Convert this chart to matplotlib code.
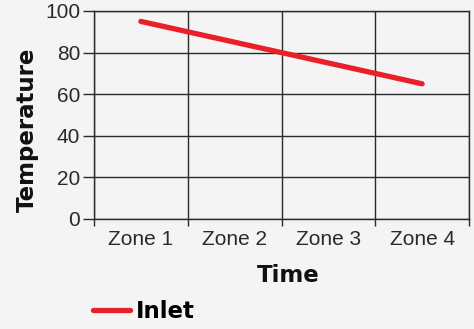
import matplotlib
matplotlib.use("Agg")
import matplotlib.pyplot as plt
import numpy as np

# Data
zones = ["Zone 1", "Zone 2", "Zone 3", "Zone 4"]
inlet = [95, 85, 75, 65]
y_ticks = [0, 20, 40, 60, 80, 100]

BG = "#f4f4f4"
GRID = "#2a2a2a"
RED = "#e8202a"
TICK_FONT = dict(family=["Liberation Sans", "DejaVu Sans"], weight="normal", size=15)
TITLE_FONT = dict(family="DejaVu Sans", weight="bold", size=16.5)

fig = plt.figure(figsize=(4.74, 3.29), dpi=100, facecolor=BG)
ax = fig.add_axes([94 / 474, 1 - 219 / 329, (469 - 94) / 474, (219 - 11) / 329])
ax.set_facecolor(BG)

x = np.arange(len(zones))
line, = ax.plot(x, inlet, color=RED, lw=3.8, solid_capstyle="round", label="Inlet", zorder=3)

ax.set_xlim(-0.5, len(zones) - 0.5)
ax.set_ylim(0, 100)

# Category labels at centers, grid/ticks on category boundaries
ax.set_xticks(x)
ax.set_xticklabels(zones, color="#2a2a2a", **TICK_FONT)
ax.tick_params(axis="x", which="major", length=0, pad=8)
ax.set_xticks(np.arange(-0.5, len(zones), 1.0), minor=True)
ax.tick_params(axis="x", which="minor", length=5, width=1, color=GRID, direction="out")
ax.grid(True, axis="x", which="minor", color=GRID, lw=1)

ax.set_yticks(y_ticks)
ax.set_yticklabels([str(v) for v in y_ticks], color="#2a2a2a", **TICK_FONT)
ax.tick_params(axis="y", which="major", length=8, width=1, color=GRID, direction="out", pad=2)
ax.grid(True, axis="y", which="major", color=GRID, lw=1)

for s in ax.spines.values():
    s.set_color(GRID)
    s.set_linewidth(1)

fig.text(27 / 474, 1 - 130 / 329, "Temperature", rotation=90, ha="center", va="center",
         color="#111111", **TITLE_FONT)
fig.text(288 / 474, 1 - 276 / 329, "Time", ha="center", va="center",
         color="#111111", **TITLE_FONT)

fig.legend(handles=[line], loc="center left", bbox_to_anchor=(72 / 474, 1 - 312 / 329),
           frameon=False, handlelength=1.65, handletextpad=0.25,
           prop=TITLE_FONT)

fig.savefig("out.png", dpi=100, facecolor=BG)
